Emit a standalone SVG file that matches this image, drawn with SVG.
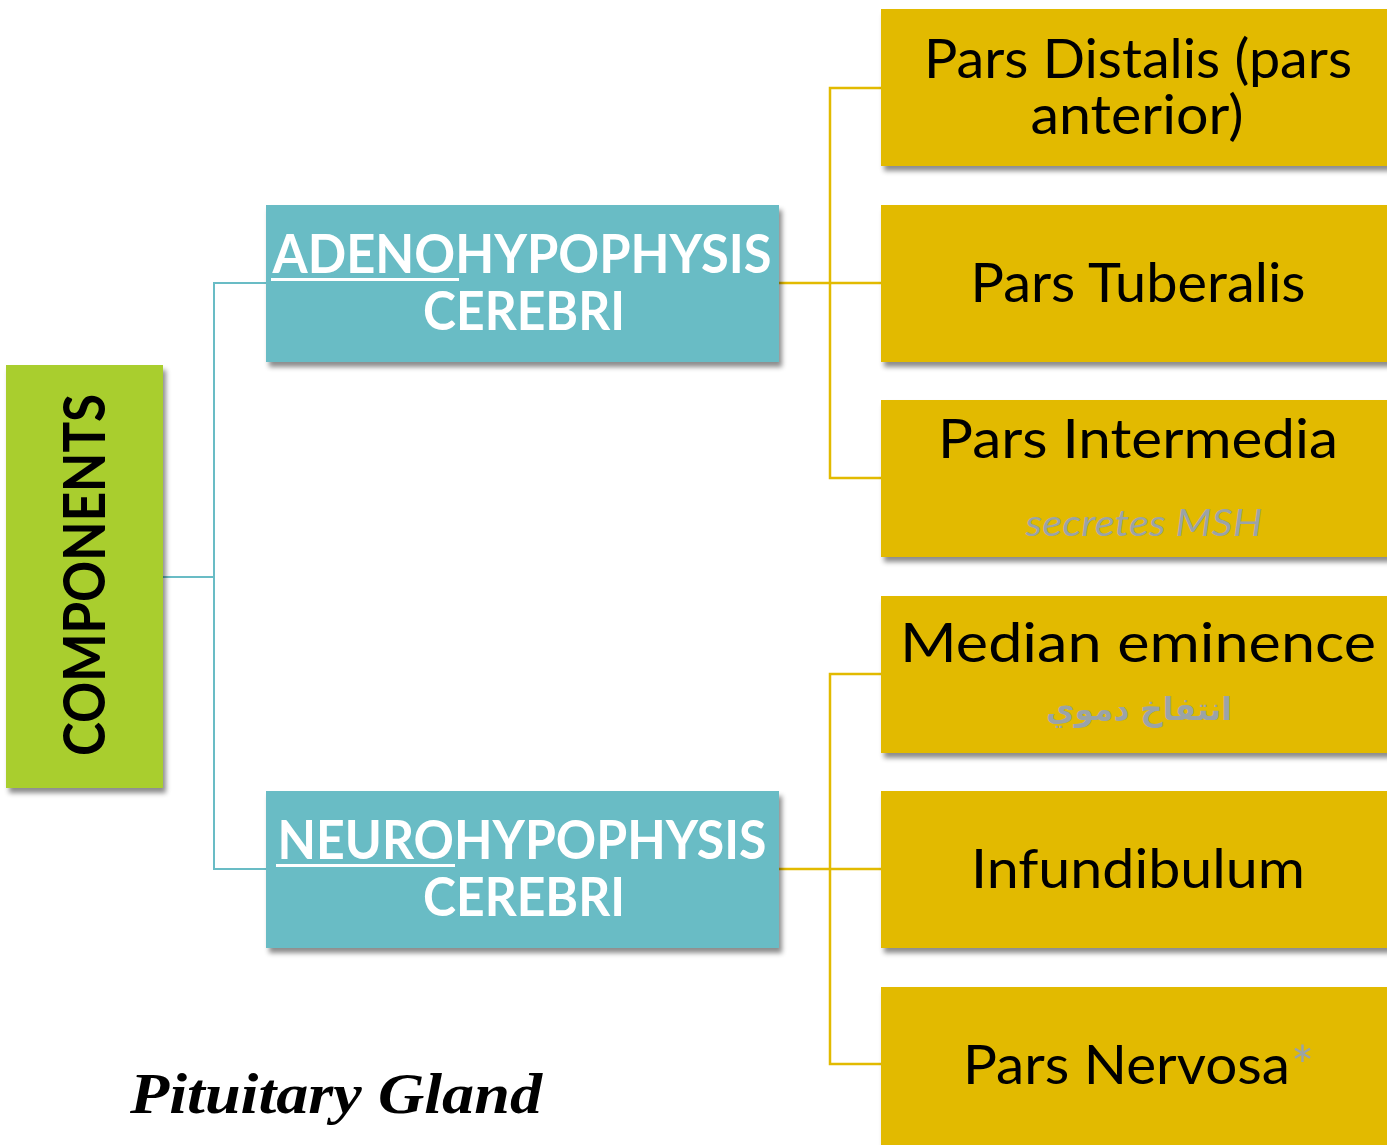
<svg xmlns="http://www.w3.org/2000/svg" width="1387" height="1145" viewBox="0 0 1387 1145">
<defs>
<filter id="sh" x="-5%" y="-5%" width="115%" height="125%">
<feDropShadow dx="3" dy="5" stdDeviation="2.5" flood-color="#000" flood-opacity="0.45"/>
</filter>
</defs>
<style>
.g{fill:#A9CE2D}
.t{fill:#69BCC5}
.y{fill:#E2BA00}
.lbl{font-family:Lato,"DejaVu Sans",sans-serif;font-size:55px;fill:#000}
.wb{font-family:Lato,"DejaVu Sans",sans-serif;font-weight:bold;font-size:54px;fill:#fff}
.sub{font-family:Lato,"DejaVu Sans",sans-serif;font-style:italic;font-size:37px;fill:#9AA3A8}
.ar{font-family:"DejaVu Sans",sans-serif;font-weight:bold;font-size:32px;fill:#9AA3A8}
.ct{fill:none;stroke:#69BCC5;stroke-width:2}
.cy{fill:none;stroke:#E2BA00;stroke-width:2.5}
</style>
<g id="connectors">
<polyline class="ct" points="163,577 214,577"/>
<polyline class="ct" points="266,283 214,283 214,869 266,869"/>
<polyline class="cy" points="779,283 881,283"/>
<polyline class="cy" points="881,88 830,88 830,478 881,478"/>
<polyline class="cy" points="779,869 881,869"/>
<polyline class="cy" points="881,674 830,674 830,1064 881,1064"/>
</g>
<g id="components">
<rect class="g" x="6" y="365" width="157" height="423" filter="url(#sh)"/>
<text transform="translate(105,575) rotate(-90)" text-anchor="middle" font-family="Lato,'DejaVu Sans',sans-serif" font-weight="bold" font-size="58" textLength="362" lengthAdjust="spacingAndGlyphs">COMPONENTS</text>
</g>
<g id="adeno">
<rect class="t" x="266" y="205" width="513" height="157" filter="url(#sh)"/>
<text class="wb" x="522" y="273" text-anchor="middle" textLength="499" lengthAdjust="spacingAndGlyphs">ADENOHYPOPHYSIS</text>
<rect x="271" y="278" width="188" height="3" fill="#fff"/>
<text class="wb" x="524" y="330" text-anchor="middle" textLength="202" lengthAdjust="spacingAndGlyphs">CEREBRI</text>
</g>
<g id="neuro">
<rect class="t" x="266" y="791" width="513" height="157" filter="url(#sh)"/>
<text class="wb" x="522" y="859" text-anchor="middle" textLength="489" lengthAdjust="spacingAndGlyphs">NEUROHYPOPHYSIS</text>
<rect x="276" y="864" width="179" height="3" fill="#fff"/>
<text class="wb" x="524" y="916" text-anchor="middle" textLength="202" lengthAdjust="spacingAndGlyphs">CEREBRI</text>
</g>
<g id="distalis">
<rect class="y" x="881" y="9" width="510" height="157" filter="url(#sh)"/>
<text class="lbl" x="1138" y="78" text-anchor="middle" textLength="428" lengthAdjust="spacingAndGlyphs">Pars Distalis (pars</text>
<text class="lbl" x="1137" y="134" text-anchor="middle" textLength="213" lengthAdjust="spacingAndGlyphs">anterior)</text>
</g>
<g id="tuberalis">
<rect class="y" x="881" y="205" width="510" height="157" filter="url(#sh)"/>
<text class="lbl" x="1138" y="302" text-anchor="middle" textLength="335" lengthAdjust="spacingAndGlyphs">Pars Tuberalis</text>
</g>
<g id="intermedia">
<rect class="y" x="881" y="400" width="510" height="157" filter="url(#sh)"/>
<text class="lbl" x="1138" y="458" text-anchor="middle" textLength="400" lengthAdjust="spacingAndGlyphs">Pars Intermedia</text>
<text class="sub" x="1144" y="536" text-anchor="middle" textLength="237" lengthAdjust="spacingAndGlyphs">secretes MSH</text>
</g>
<g id="median">
<rect class="y" x="881" y="596" width="510" height="157" filter="url(#sh)"/>
<text class="lbl" x="1138" y="662" text-anchor="middle" textLength="476" lengthAdjust="spacingAndGlyphs">Median eminence</text>
<text class="ar" x="1139" y="720" text-anchor="middle" direction="rtl" textLength="186" lengthAdjust="spacingAndGlyphs">انتفاخ دموي</text>
</g>
<g id="infundibulum">
<rect class="y" x="881" y="791" width="510" height="157" filter="url(#sh)"/>
<text class="lbl" x="1138" y="888" text-anchor="middle" textLength="334" lengthAdjust="spacingAndGlyphs">Infundibulum</text>
</g>
<g id="nervosa">
<rect class="y" x="881" y="987" width="510" height="170" filter="url(#sh)"/>
<text class="lbl" x="963" y="1084" textLength="327" lengthAdjust="spacingAndGlyphs">Pars Nervosa</text>
<text x="1291" y="1085" font-family="Lato,'DejaVu Sans',sans-serif" font-size="54" fill="#9AA3A8">*</text>
</g>
<g id="title">
<text x="130" y="1113" font-family="'Liberation Serif',serif" font-weight="bold" font-style="italic" font-size="58" fill="#000" textLength="412" lengthAdjust="spacingAndGlyphs">Pituitary Gland</text>
</g>
</svg>
